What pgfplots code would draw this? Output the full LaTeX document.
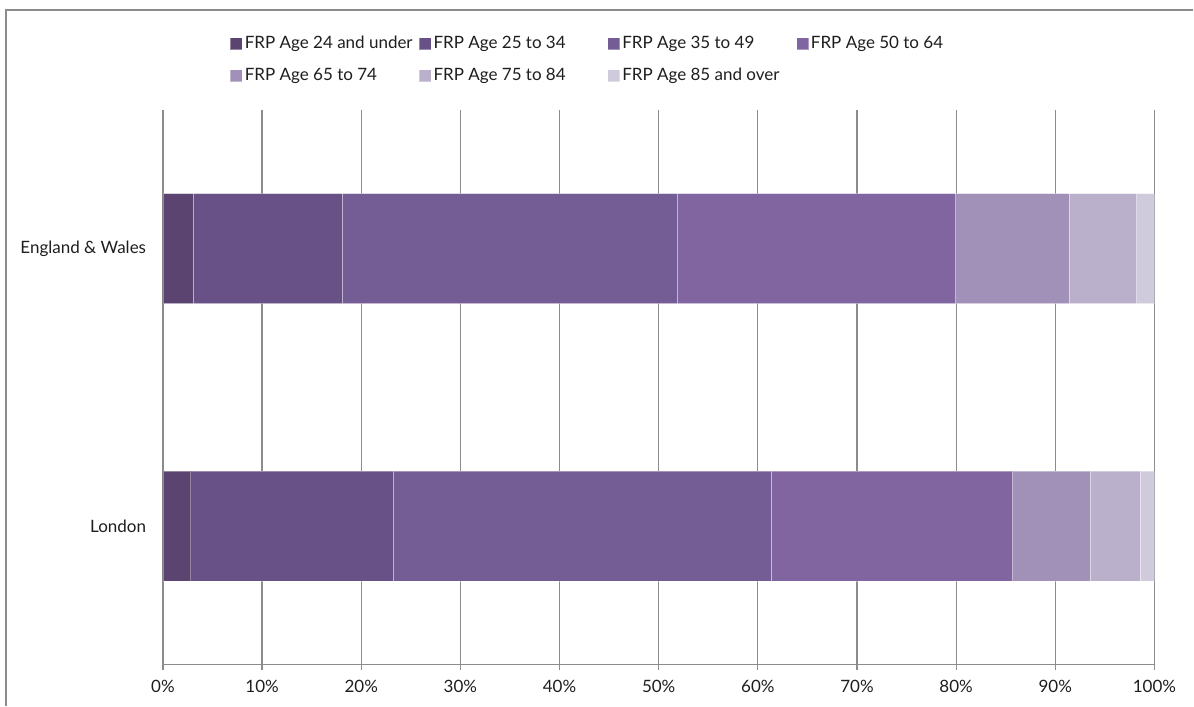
\documentclass[border=0pt]{standalone}
\usepackage{fontspec}
\setmainfont{Lato}
\usepackage{pgfplots}
\pgfplotsset{compat=1.18}
\definecolor{c1}{HTML}{5B4470}
\definecolor{c2}{HTML}{685186}
\definecolor{c3}{HTML}{745C95}
\definecolor{c4}{HTML}{8065A1}
\definecolor{c5}{HTML}{A191B8}
\definecolor{c6}{HTML}{BAB0CB}
\definecolor{c7}{HTML}{D0CADD}
\definecolor{gridc}{HTML}{8C8C8C}
\definecolor{txt}{HTML}{1E1E1E}
\begin{document}
\fontsize{17}{20}\selectfont
\begin{tikzpicture}
\begin{axis}[
  scale only axis,
  width=992pt, height=555pt,
  xbar stacked,
  bar width=110pt,
  xmin=0, xmax=100,
  ymin=-0.5, ymax=1.5,
  axis x line*=bottom,
  axis y line*=left,
  axis line style={gridc, line width=1.2pt},
  xtick={0,10,...,100},
  xticklabel={\pgfmathprintnumber{\tick}\%},
  /pgf/number format/assume math mode=true,
  xmajorgrids,
  major grid style={gridc, line width=1.2pt},
  tick align=outside,
  major tick length=5pt,
  tick style={gridc, line width=1.2pt},
  ytick={0,1},
  yticklabels={London, England \& Wales},
  ytick style={draw=none},
  extra y ticks={-0.5,0.5,1.5},
  extra y tick labels={},
  extra y tick style={tick style={gridc, line width=1.2pt}, major tick length=5pt, grid=none},
  ticklabel style={font=\fontsize{17}{20}\selectfont, text=txt},
  yticklabel style={xshift=-6pt},
  xticklabel style={yshift=-5pt},
  legend style={at={(0.0675,1.137)}, anchor=north west, draw=none, fill=none,
    inner sep=0pt, font=\fontsize{17}{20}\selectfont, text=txt,
    /tikz/every even column/.append style={column sep=0pt},
    row sep=13pt},
  legend columns=4,
  legend cell align=left,
  legend image code/.code={\fill[#1] (0pt,-6pt) rectangle (12pt,6pt);},
  every axis plot/.append style={draw=white, draw opacity=0.35, line width=0.8pt},
]
\addplot[fill=c1] coordinates {(3.05,1) (2.82,0)};
\addplot[fill=c2] coordinates {(15.03,1) (20.40,0)};
\addplot[fill=c3] coordinates {(33.77,1) (38.10,0)};
\addplot[fill=c4] coordinates {(28.09,1) (24.37,0)};
\addplot[fill=c5] coordinates {(11.49,1) (7.86,0)};
\addplot[fill=c6] coordinates {(6.77,1) (5.04,0)};
\addplot[fill=c7] coordinates {(1.80,1) (1.41,0)};
\legend{\makebox[172pt][l]{FRP Age 24 and under},\makebox[172pt][l]{FRP Age 25 to 34},\makebox[172pt][l]{FRP Age 35 to 49},\makebox[172pt][l]{FRP Age 50 to 64},\makebox[172pt][l]{FRP Age 65 to 74},\makebox[172pt][l]{FRP Age 75 to 84},\makebox[172pt][l]{FRP Age 85 and over}}
\end{axis}
\draw[gridc, line width=1.2pt] (-157pt,-41pt) -- (-157pt,655pt) -- (1031pt,655pt);
\useasboundingbox (-163pt,-41pt) rectangle (1031pt,665pt);
\end{tikzpicture}
\end{document}
